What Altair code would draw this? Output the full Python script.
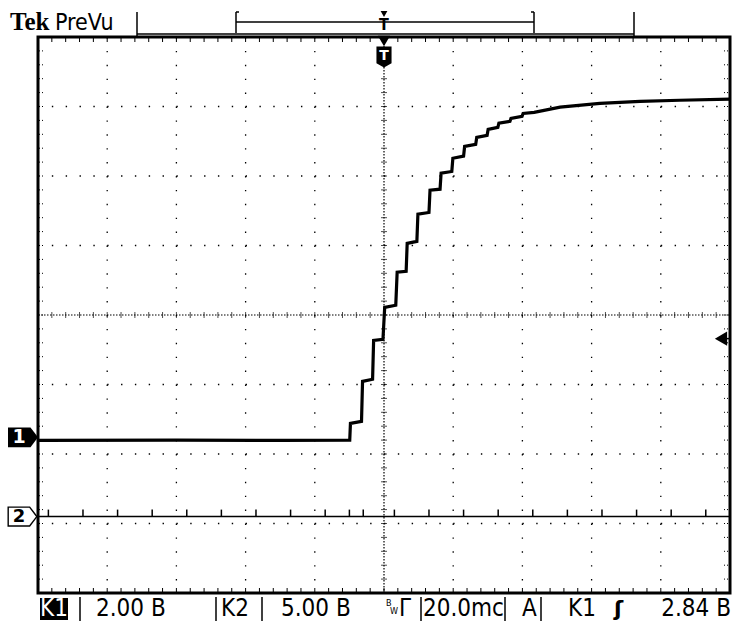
import altair as alt
import pandas as pd

# ---------------- instrument settings ----------------
TIME_PER_DIV = 20.0        # ms / div
CH1_VOLTS_PER_DIV = 2.0    # V / div
CH2_VOLTS_PER_DIV = 5.0    # V / div
CH1_POS_DIV = -1.76        # ground marker position (div from centre)
CH2_POS_DIV = -2.90
TRIG_LEVEL = 2.84          # V on CH1

# ---------------- CH1 trace (ms, V) ----------------
ch1_t = [-100, -60, -30, -9.9, -9.7, -6.5, -6.2, -3.3, -3.0, -0.3,
         0.2, 3.4, 3.8, 6.4, 6.7, 9.5, 9.8, 13.0, 13.3, 16.2,
         16.5, 19.6, 19.9, 23.0, 23.3, 26.5, 26.8, 29.8, 30.1, 32.9,
         33.2, 36.4, 36.7, 39.9, 40.2, 43.4, 50.9, 62.4, 74.0, 85.5, 100]
ch1_v = [-0.09, -0.08, -0.09, -0.08, 0.40, 0.46, 1.61, 1.67, 2.79, 2.82,
         3.74, 3.80, 4.75, 4.78, 5.58, 5.64, 6.42, 6.47, 7.11, 7.14,
         7.60, 7.65, 8.03, 8.09, 8.37, 8.43, 8.63, 8.69, 8.86, 8.92,
         9.04, 9.09, 9.18, 9.24, 9.32, 9.35, 9.50, 9.61, 9.67, 9.70, 9.73]

# ---------------- CH2 trace (ms, V) ----------------
ch2_t = [-100, 100]
ch2_v = [0.0, 0.0]
ch2_spike_t = [-97, -87, -77, -67, -57, -47, -37, -27, -17, -10, -6, 3,
               13, 23, 33, 43, 53, 63, 73, 83, 93]
ch2_spike_peak = [0.5] * len(ch2_spike_t)   # spike height (V)

# ---------------- graticule ----------------
grid_x = [-4, -3, -2, -1, 1, 2, 3, 4]
grid_y = [-3, -2, -1, 1, 2, 3]
minor_x = [i / 5 for i in range(-24, 25)]
minor_y = [i / 5 for i in range(-19, 20)]

W, H = 692, 556

xs = alt.Scale(domain=[-5, 5], nice=False, zero=False)
ys = alt.Scale(domain=[-4, 4], nice=False, zero=False)
FONT = "Liberation Sans Narrow, DejaVu Sans Condensed, sans-serif"

one = pd.DataFrame({"k": [0]})


def X(f):
    return alt.X(f, scale=xs, axis=None)


def Y(f):
    return alt.Y(f, scale=ys, axis=None)


def txt(s, x, y, size=20, color="black", weight="normal", align="left",
        font=FONT, baseline="middle"):
    return alt.Chart(one).mark_text(
        text=s, align=align, baseline=baseline, font=font, fontSize=size,
        fontWeight=weight, color=color
    ).encode(x=alt.value(x), y=alt.value(y))


def rule(x1, y1, x2, y2, w=1.0):
    return alt.Chart(one).mark_rule(color="black", strokeWidth=w).encode(
        x=alt.value(x1), y=alt.value(y1), x2=alt.value(x2), y2=alt.value(y2))


layers = []

# dotted grid
layers.append(
    alt.Chart(pd.DataFrame({"gx": grid_x})).mark_rule(
        color="black", strokeWidth=1.3, strokeDash=[1.4, 12.5]
    ).encode(x=X("gx:Q"), y=alt.value(0), y2=alt.value(H))
)
layers.append(
    alt.Chart(pd.DataFrame({"gy": grid_y})).mark_rule(
        color="black", strokeWidth=1.3, strokeDash=[1.4, 12.44]
    ).encode(y=Y("gy:Q"), x=alt.value(0), x2=alt.value(W))
)
# centre cross lines
layers.append(
    alt.Chart(pd.DataFrame({"c": [0]})).mark_rule(
        color="black", strokeWidth=1.2, strokeDash=[1.5, 1.5]
    ).encode(x=X("c:Q"), y=alt.value(0), y2=alt.value(H))
)
layers.append(
    alt.Chart(pd.DataFrame({"c": [0]})).mark_rule(
        color="black", strokeWidth=1.2, strokeDash=[1.5, 1.5]
    ).encode(y=Y("c:Q"), x=alt.value(0), x2=alt.value(W))
)
# minor ticks on centre lines
mx = pd.DataFrame({"v": minor_x, "c": [0.0] * len(minor_x)})
my = pd.DataFrame({"v": minor_y, "c": [0.0] * len(minor_y)})
layers.append(
    alt.Chart(mx).mark_tick(orient="vertical", size=6, thickness=1, color="black").encode(
        x=X("v:Q"), y=Y("c:Q"))
)
layers.append(
    alt.Chart(my).mark_tick(orient="horizontal", size=6, thickness=1, color="black").encode(
        y=Y("v:Q"), x=X("c:Q"))
)
# edge ticks
layers.append(alt.Chart(mx).mark_rule(color="black", strokeWidth=1).encode(
    x=X("v:Q"), y=alt.value(1), y2=alt.value(5)))
layers.append(alt.Chart(mx).mark_rule(color="black", strokeWidth=1).encode(
    x=X("v:Q"), y=alt.value(H - 5), y2=alt.value(H - 1)))
layers.append(alt.Chart(my).mark_rule(color="black", strokeWidth=1, strokeDash=[1, 2]).encode(
    y=Y("v:Q"), x=alt.value(1), x2=alt.value(6)))
layers.append(alt.Chart(my).mark_rule(color="black", strokeWidth=1, strokeDash=[1, 2]).encode(
    y=Y("v:Q"), x=alt.value(W - 6), x2=alt.value(W - 1)))

# CH2 trace and spikes
ch2 = pd.DataFrame({"t": ch2_t, "v": ch2_v})
ch2["xd"] = ch2.t / TIME_PER_DIV
ch2["yd"] = ch2.v / CH2_VOLTS_PER_DIV + CH2_POS_DIV
layers.append(alt.Chart(ch2).mark_line(color="black", strokeWidth=1.5).encode(
    x=X("xd:Q"), y=Y("yd:Q")))

spikes = pd.DataFrame({
    "sx": [t / TIME_PER_DIV for t in ch2_spike_t],
    "sy0": [CH2_POS_DIV] * len(ch2_spike_t),
    "sy1": [p / CH2_VOLTS_PER_DIV + CH2_POS_DIV for p in ch2_spike_peak],
})
layers.append(alt.Chart(spikes).mark_rule(color="black", strokeWidth=1.5).encode(
    x=X("sx:Q"), y=Y("sy0:Q"), y2="sy1:Q"))

# CH1 trace
ch1 = pd.DataFrame({"t": ch1_t, "v": ch1_v})
ch1["xd"] = ch1.t / TIME_PER_DIV
ch1["yd"] = ch1.v / CH1_VOLTS_PER_DIV + CH1_POS_DIV
layers.append(alt.Chart(ch1).mark_line(color="black", strokeWidth=3.2).encode(
    x=X("xd:Q"), y=Y("yd:Q"), order="t:Q"))

# trigger position marker (top)
trig_pos = pd.DataFrame({"x": [0.0]})
layers.append(alt.Chart(trig_pos).mark_point(shape="triangle-down", size=150, filled=True,
                                             color="black", opacity=1).encode(
    x=X("x:Q"), y=alt.value(4)))
layers.append(alt.Chart(trig_pos).mark_point(
    shape="M -0.72 -1 L 0.72 -1 L 0.72 0.6 L 0 1 L -0.72 0.6 Z",
    size=440, filled=True, color="black", opacity=1).encode(x=X("x:Q"), y=alt.value(20)))
layers.append(alt.Chart(trig_pos).mark_text(text="T", color="white", fontWeight="bold",
                                            fontSize=14, font="DejaVu Sans").encode(
    x=X("x:Q"), y=alt.value(19)))

# trigger level arrow (right)
trig_lvl = pd.DataFrame({"v": [TRIG_LEVEL]})
trig_lvl["y"] = trig_lvl.v / CH1_VOLTS_PER_DIV + CH1_POS_DIV
layers.append(alt.Chart(trig_lvl).mark_rule(color="black", strokeWidth=1.5).encode(
    y=Y("y:Q"), x=alt.value(682), x2=alt.value(W)))
layers.append(alt.Chart(trig_lvl).mark_point(shape="triangle-left", size=200, filled=True,
                                             color="black", opacity=1).encode(
    x=alt.value(683), y=Y("y:Q")))

# channel markers (left)
TAG = "M -1 -0.66 L 0.5 -0.66 L 1 0 L 0.5 0.66 L -1 0.66 Z"
m1 = pd.DataFrame({"y": [CH1_POS_DIV]})
m2 = pd.DataFrame({"y": [CH2_POS_DIV]})
layers.append(alt.Chart(m1).mark_point(shape=TAG, size=900, filled=True, color="black",
                                       opacity=1).encode(x=alt.value(-15), y=Y("y:Q")))
layers.append(alt.Chart(m1).mark_text(text="1", color="white", fontWeight="bold",
                                      fontSize=19, font="DejaVu Sans").encode(
    x=alt.value(-19), y=Y("y:Q")))
layers.append(alt.Chart(m2).mark_point(shape=TAG, size=820, filled=True, fill="white",
                                       stroke="black", strokeWidth=1.4, opacity=1).encode(
    x=alt.value(-15.5), y=Y("y:Q")))
layers.append(alt.Chart(m2).mark_text(text="2", color="black", fontWeight="bold",
                                      fontSize=18, font="DejaVu Sans").encode(
    x=alt.value(-19), y=Y("y:Q")))

# header
layers.append(txt("Tek", -28, -7, size=25, weight="bold",
                  font="Liberation Serif, DejaVu Serif", baseline="alphabetic"))
layers.append(txt("PreVu", 17, -7, size=23, font="DejaVu Sans Condensed, DejaVu Sans",
                  baseline="alphabetic"))
layers.append(rule(99, -25, 99, -1, 1.5))
layers.append(rule(596, -25, 596, -1, 1.5))
layers.append(rule(99, -3, 596, -3, 1.5))
layers.append(rule(198, -25, 198, -4, 1.5))
layers.append(rule(496, -25, 496, -4, 1.5))
layers.append(rule(198, -25, 201, -25, 1.5))
layers.append(rule(493, -25, 496, -25, 1.5))
layers.append(rule(198, -15, 496, -15, 1.5))
layers.append(alt.Chart(trig_pos).mark_point(shape="triangle-down", size=45, filled=True,
                                             color="black", opacity=1).encode(
    x=X("x:Q"), y=alt.value(-23)))
layers.append(alt.Chart(trig_pos).mark_text(text="T", color="black", fontWeight="bold",
                                            fontSize=16, font="DejaVu Sans Condensed").encode(
    x=X("x:Q"), y=alt.value(-12)))

# status bar
SY = 572
FS = 24
layers.append(alt.Chart(one).mark_rect(color="black").encode(
    x=alt.value(2), x2=alt.value(30), y=alt.value(561), y2=alt.value(583)))
layers.append(txt("K1", 16, SY, size=FS, color="white", align="center"))
for sx in [42, 178, 224, 383, 467, 503]:
    layers.append(rule(sx, 560, sx, 584, 1.5))
layers.append(txt("2.00 B", 58, SY, size=FS))
layers.append(txt("K2", 183, SY, size=FS))
layers.append(txt("5.00 B", 243, SY, size=FS))
layers.append(txt("B", 348, SY - 6, size=9))
layers.append(txt("W", 352, SY + 2, size=9))
layers.append(txt("Γ", 361, SY, size=FS))
layers.append(txt("20.0mc", 385, SY, size=FS))
layers.append(txt("A", 484, SY, size=FS))
layers.append(txt("K1", 530, SY, size=FS))
layers.append(txt("ʃ", 576, SY, size=22, font="DejaVu Sans", weight="bold"))
layers.append(txt("2.84 B", 693, SY, size=FS, align="right"))

chart = alt.layer(*layers).properties(
    width=W, height=H,
    padding={"left": 38, "top": 37, "right": 4, "bottom": 28},
    autosize=alt.AutoSizeParams(type="none"),
    background="white",
).configure_view(stroke="black", strokeWidth=3)

chart.save("out.html", embed_options={"renderer": "svg", "actions": False})
